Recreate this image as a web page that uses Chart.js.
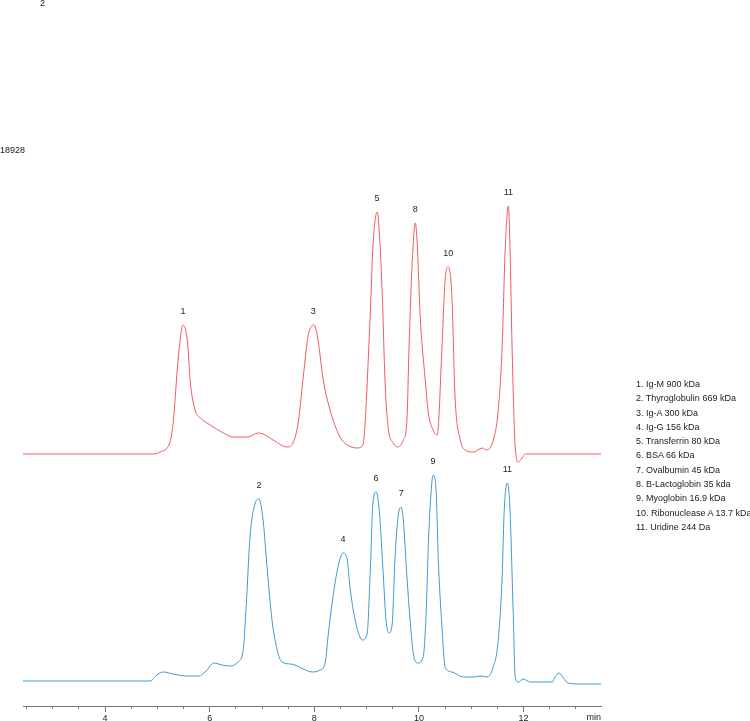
<!DOCTYPE html>
<html>
<head>
<meta charset="utf-8">
<script src="https://cdn.jsdelivr.net/npm/chart.js@4"></script>
<style>
  body { margin: 0; background: #fff; font-family: "Liberation Sans", sans-serif; }
  #wrap { position: relative; width: 750px; height: 721px; overflow: hidden; }
  canvas { position: absolute; left: 0; top: 0; }
  .note { position: absolute; font-size: 9px; color: #222; line-height: 10px; }
  #legend { position: absolute; left: 636px; top: 377px; font-size: 9px; line-height: 14.3px; color: #222; white-space: nowrap; }
</style>
</head>
<body>
<div id="wrap">
  <canvas id="chart" width="750" height="721"></canvas>
  <div class="note" style="left:40px; top:-2px;">2</div>
  <div class="note" style="left:0px; top:145px;">18928</div>
  <div id="legend"></div>
</div>
<script>
// --- data (time in min, signal in plot units) ---
const redTime = [2.43, 4.92, 5.05, 5.24, 5.30, 5.40, 5.49, 5.57, 5.63, 5.72, 5.82, 6.01, 6.26, 6.45, 6.72, 6.93, 7.02, 7.21, 7.48, 7.59,
  7.69, 7.79, 7.88, 7.95, 7.98, 8.02, 8.07, 8.17, 8.30, 8.49, 8.63, 8.82, 8.93, 8.97, 9.05, 9.07, 9.12, 9.20, 9.24, 9.30, 9.35, 9.41,
  9.51, 9.60, 9.70, 9.77, 9.81, 9.87, 9.93, 9.97, 10.02, 10.12, 10.18, 10.27, 10.35, 10.37, 10.44, 10.50, 10.56, 10.63, 10.69, 10.79,
  10.88, 11.04, 11.21, 11.30, 11.42, 11.51, 11.59, 11.65, 11.71, 11.74, 11.78, 11.84, 11.90, 11.97, 12.03, 13.48];
const redSignal = [252, 252, 254, 264, 283, 349, 381, 366, 323, 296, 288, 281, 273, 269, 269, 273, 272, 266, 259, 263,
  283, 330, 370, 380, 381, 379, 366, 326, 296, 269, 261, 258, 261, 283, 369, 393, 459, 494, 476, 409, 326, 279,
  263, 259, 266, 286, 359, 443, 483, 459, 393, 326, 293, 276, 271, 279, 359, 426, 439, 409, 309, 266,
  256, 254, 258, 256, 266, 293, 359, 459, 500, 459, 359, 259, 244, 248, 252, 252];

const blueTime = [2.43, 4.86, 4.99, 5.11, 5.30, 5.57, 5.78, 5.95, 6.07, 6.24, 6.39, 6.54, 6.64, 6.70, 6.77, 6.87, 6.94, 7.02, 7.10, 7.19,
  7.29, 7.38, 7.54, 7.63, 7.79, 7.96, 8.11, 8.21, 8.26, 8.34, 8.44, 8.55, 8.63, 8.68, 8.78, 8.88, 8.93, 9.01, 9.07, 9.12,
  9.18, 9.24, 9.32, 9.37, 9.43, 9.49, 9.54, 9.60, 9.66, 9.70, 9.77, 9.83, 9.89, 9.98, 10.08, 10.14, 10.18, 10.23, 10.27, 10.33,
  10.37, 10.44, 10.50, 10.63, 10.85, 11.04, 11.17, 11.30, 11.42, 11.51, 11.59, 11.63, 11.69, 11.74, 11.80, 11.84, 11.90, 11.99, 12.13, 12.32,
  12.55, 12.60, 12.68, 12.76, 12.85, 13.08, 13.48];
const blueSignal = [25, 25, 31, 34, 32, 30, 30, 36, 43, 41, 40, 44, 56, 103, 169, 203, 207, 186, 136, 86,
  56, 44, 42, 41, 37, 34, 36, 44, 69, 103, 136, 153, 146, 119, 86, 68, 66, 73, 136, 203,
  214, 196, 129, 86, 73, 83, 146, 189, 199, 186, 129, 86, 53, 43, 49, 96, 163, 213, 231, 213,
  146, 79, 39, 34, 29, 29, 30, 29, 39, 63, 129, 196, 223, 196, 96, 29, 24, 27, 24, 24,
  24, 29, 33, 28, 23, 22, 22];

// peak labels: name + retention time (must match a time in the series)
const redPeakNames = ['1', '3', '5', '8', '10', '11'];
const redPeakTimes = [5.49, 7.98, 9.20, 9.93, 10.56, 11.71];
const bluePeakNames = ['2', '4', '6', '7', '9', '11'];
const bluePeakTimes = [6.94, 8.55, 9.18, 9.66, 10.27, 11.69];

const legendItems = [
  '1. Ig-M 900 kDa', '2. Thyroglobulin 669 kDa', '3. Ig-A 300 kDa', '4. Ig-G 156 kDa',
  '5. Transferrin 80 kDa', '6. BSA 66 kDa', '7. Ovalbumin 45 kDa', '8. B-Lactoglobin 35 kda',
  '9. Myoglobin 16.9 kDa', '10. Ribonuclease A 13.7 kDa', '11. Uridine 244 Da'
];

const X_MIN = 2.43, X_MAX = 13.48;
const FONT = '"Liberation Sans", sans-serif';

document.getElementById('legend').innerHTML = legendItems.map(s => `<div>${s}</div>`).join('');

const toPoints = (t, v) => t.map((x, i) => ({ x, y: v[i] }));

// --- peak numbers + unit label ---
const peakLabels = {
  id: 'peakLabels',
  afterDatasetsDraw(chart) {
    const { ctx, scales: { x, y } } = chart;
    ctx.save();
    ctx.font = '9px ' + FONT;
    ctx.fillStyle = '#222';
    ctx.textAlign = 'center';
    ctx.textBaseline = 'middle';
    [[redPeakNames, redPeakTimes, redTime, redSignal],
     [bluePeakNames, bluePeakTimes, blueTime, blueSignal]].forEach(([names, times, t, v]) => {
      names.forEach((name, i) => {
        const idx = t.indexOf(times[i]);
        ctx.fillText(name, x.getPixelForValue(times[i]), y.getPixelForValue(v[idx]) - 13);
      });
    });
    ctx.textAlign = 'right';
    ctx.textBaseline = 'top';
    ctx.fillText('min', x.right, x.top + 7);
    ctx.restore();
  }
};

new Chart(document.getElementById('chart').getContext('2d'), {
  type: 'line',
  data: {
    datasets: [
      { data: toPoints(redTime, redSignal), borderColor: '#ef5a64', borderWidth: 1,
        pointRadius: 0, cubicInterpolationMode: 'monotone', fill: false },
      { data: toPoints(blueTime, blueSignal), borderColor: '#3f98d4', borderWidth: 1,
        pointRadius: 0, cubicInterpolationMode: 'monotone', fill: false }
    ]
  },
  options: {
    responsive: false,
    devicePixelRatio: 1,
    animation: false,
    layout: { padding: { left: 23, right: 149, top: 150, bottom: 0 } },
    plugins: { legend: { display: false }, tooltip: { enabled: false } },
    scales: {
      x: {
        type: 'linear', min: X_MIN, max: X_MAX,
        afterFit: s => { s.height = 15; },
        border: { color: '#777', width: 1 },
        grid: { drawOnChartArea: false, tickLength: 6, color: '#777' },
        ticks: { stepSize: 2, includeBounds: false, padding: 1, color: '#222',
                 font: { size: 9, family: FONT }, maxRotation: 0 }
      },
      xMinor: {
        type: 'linear', axis: 'x', position: { y: 0 }, min: X_MIN, max: X_MAX,
        border: { display: false },
        grid: { drawOnChartArea: false, tickLength: 3, color: '#777' },
        ticks: { stepSize: 0.5, includeBounds: false, callback: () => '' }
      },
      y: { type: 'linear', min: 0, max: 556, display: false }
    }
  },
  plugins: [peakLabels]
});
</script>
</body>
</html>
